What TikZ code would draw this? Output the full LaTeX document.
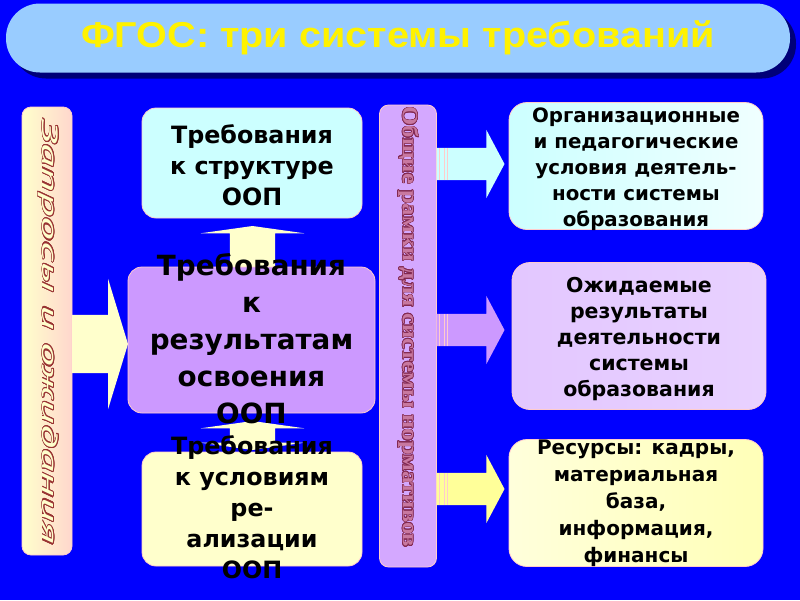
\documentclass[tikz,border=0pt]{standalone}
\usepackage{fontspec}
\setmainfont{DejaVu Sans}
\newfontfamily\headfont{Liberation Sans}
\newfontfamily\bandfont{PT Sans}
\newfontfamily\normfont{Liberation Serif}
\usepackage{contour}
\contourlength{0.6pt}
\usetikzlibrary{shapes.arrows,shadows,calc,positioning}
\definecolor{bgblue}{RGB}{0,0,255}
\definecolor{titlefill}{RGB}{153,204,255}
\definecolor{shadowblue}{RGB}{0,0,120}
\definecolor{lcyan}{RGB}{204,255,255}
\definecolor{lilac}{RGB}{204,153,255}
\definecolor{cream}{RGB}{255,255,204}
\definecolor{lemon}{RGB}{255,255,153}
\definecolor{rimpink}{RGB}{255,204,204}
\definecolor{maroon}{RGB}{153,51,51}
\definecolor{rose}{RGB}{200,120,160}
\definecolor{plum}{RGB}{130,40,80}
\tikzset{
  reqbox/.style={draw=rimpink, line width=0.8pt, rounded corners=14pt,
    inner sep=0pt, outer sep=0pt},
  outbox/.style={draw=rimpink, line width=0.8pt, rounded corners=18pt,
    inner sep=0pt, outer sep=0pt, minimum width=254pt},
  band/.style={draw=rimpink, line width=0.8pt, rounded corners=9pt,
    inner sep=0pt, outer sep=0pt},
  boxtext/.style={align=center, inner sep=0pt,
    font=\bfseries\fontsize{23.8}{31}\selectfont},
  outtext/.style={align=center, inner sep=0pt,
    font=\bfseries\fontsize{19.8}{26}\selectfont},
  fatarrow/.style={single arrow, draw=none, inner xsep=0pt, outer sep=0pt},
  sidearrow/.style={fatarrow, minimum height=68pt, inner ysep=16pt,
    single arrow head extend=18pt, single arrow tip angle=124},
  twoway/.style={double arrow, draw=none, fill=cream, inner xsep=0pt,
    inner ysep=22.5pt, outer sep=0pt, double arrow head extend=29pt,
    double arrow tip angle=164}
}
\begin{document}
\begin{tikzpicture}[x=1pt,y=-1pt]
\useasboundingbox (0,0) rectangle (800,600);
\fill[bgblue] (0,0) rectangle (800,600);

% title
\node (title) [fill=titlefill, rounded corners=34pt, minimum width=784pt,
  minimum height=69pt, text=yellow,
  drop shadow={shadow xshift=6pt, shadow yshift=-6pt, fill=shadowblue, opacity=1},
  font=\headfont\bfseries\fontsize{36}{40}\selectfont] at (398,38)
  {\scalebox{1.1}[1]{ФГОС: три системы требований}};

% bands
\node (reqband) [band, minimum width=50pt, minimum height=448pt,
  left color=cream, right color={rgb,255:red,255;green,215;blue,205}] at (47,331) {};
\node (normband) [band, minimum width=57pt, minimum height=462pt,
  left color=lilac!85!white, middle color=lcyan, right color=lilac!85!white] at (408,336) {};

% right column
\node (orgbox) [outbox, minimum height=127pt,
  left color=lcyan, right color=lcyan!30!white] at (636,166) {};
\node (expbox) [outbox, minimum height=147pt,
  left color=lilac!55!white, middle color=lilac!95!white, right color=lilac!45!white] at (639,336) {};
\node (resbox) [outbox, minimum height=127pt,
  left color=cream!70!white, right color=lemon!70!white] at (636,503) {};

\node (orgarrow) [sidearrow, fill=lcyan, anchor=tail] at ($(normband.east)+(0,-172)$) {};
\node (exparrow) [sidearrow, fill=lilac, anchor=tail] at ($(normband.east)+(0,-6)$) {};
\node (resarrow) [sidearrow, fill=lemon, anchor=tail] at ($(normband.east)+(0,153)$) {};
\foreach \a in {orgarrow,exparrow,resarrow}
  \foreach \dx in {3,8,11}
    \draw[rimpink, line width=1pt] ([xshift=\dx pt, yshift=-16pt]\a.tail)
      -- ([xshift=\dx pt, yshift=16pt]\a.tail);

% left column
\node (inarrow) [fatarrow, fill=cream, anchor=tail, minimum height=56pt,
  inner ysep=29pt, single arrow head extend=36pt,
  single arrow tip angle=146] at ($(reqband.east)+(0,13)$) {};
\node (strbox) [reqbox, fill=lcyan, minimum width=220pt, minimum height=110pt]
  at (252,163) {};
\node (condbox) [reqbox, fill=cream, minimum width=220pt, minimum height=114pt]
  at (252,509) {};
\node (updown) [twoway, rotate=90, minimum height=74pt] at (252.5,263) {};
\node (resultbox) [reqbox, fill=lilac, minimum width=247pt, minimum height=146pt]
  at (251.5,340) {};
\node (downup) [twoway, rotate=90, minimum height=29pt] at (252.5,435.5) {};

% labels
\node (reqlabel) [rotate=-90] at (48,331.5)
  {\bandfont\itshape\fontsize{22}{22}\selectfont\color{cream}%
   \scalebox{2.2}[1]{\contour{maroon}{Запросы и ожидания}}};
\node (normlabel) [rotate=-90] at (408,327)
  {\normfont\bfseries\fontsize{22}{22}\selectfont\color{rose}%
   \scalebox{1.12}[1]{\contour{plum}{Общие рамки для системы нормативов}}};

\node (strtext) [boxtext] at (252,165) {Требования\\к структуре\\ООП};
\node (resulttext) [boxtext, font=\bfseries\fontsize{27.8}{37}\selectfont]
  at (251.5,339) {Требования\\к\\результатам\\освоения\\ООП};
\node (condtext) [boxtext] at (252,507) {Требования\\к условиям\\ре-\\ализации\\ООП};

\node (orgtext) [outtext] at (636,169)
  {Организационные\\и педагогические\\условия деятель-\\ности системы\\образования};
\node (exptext) [outtext, font=\bfseries\fontsize{20.5}{26}\selectfont] at (639,339)
  {Ожидаемые\\результаты\\деятельности\\системы\\образования};
\node (restext) [outtext, font=\bfseries\fontsize{20}{27}\selectfont] at (636,503)
  {Ресурсы: кадры,\\материальная\\база,\\информация,\\финансы};
\end{tikzpicture}
\end{document}
